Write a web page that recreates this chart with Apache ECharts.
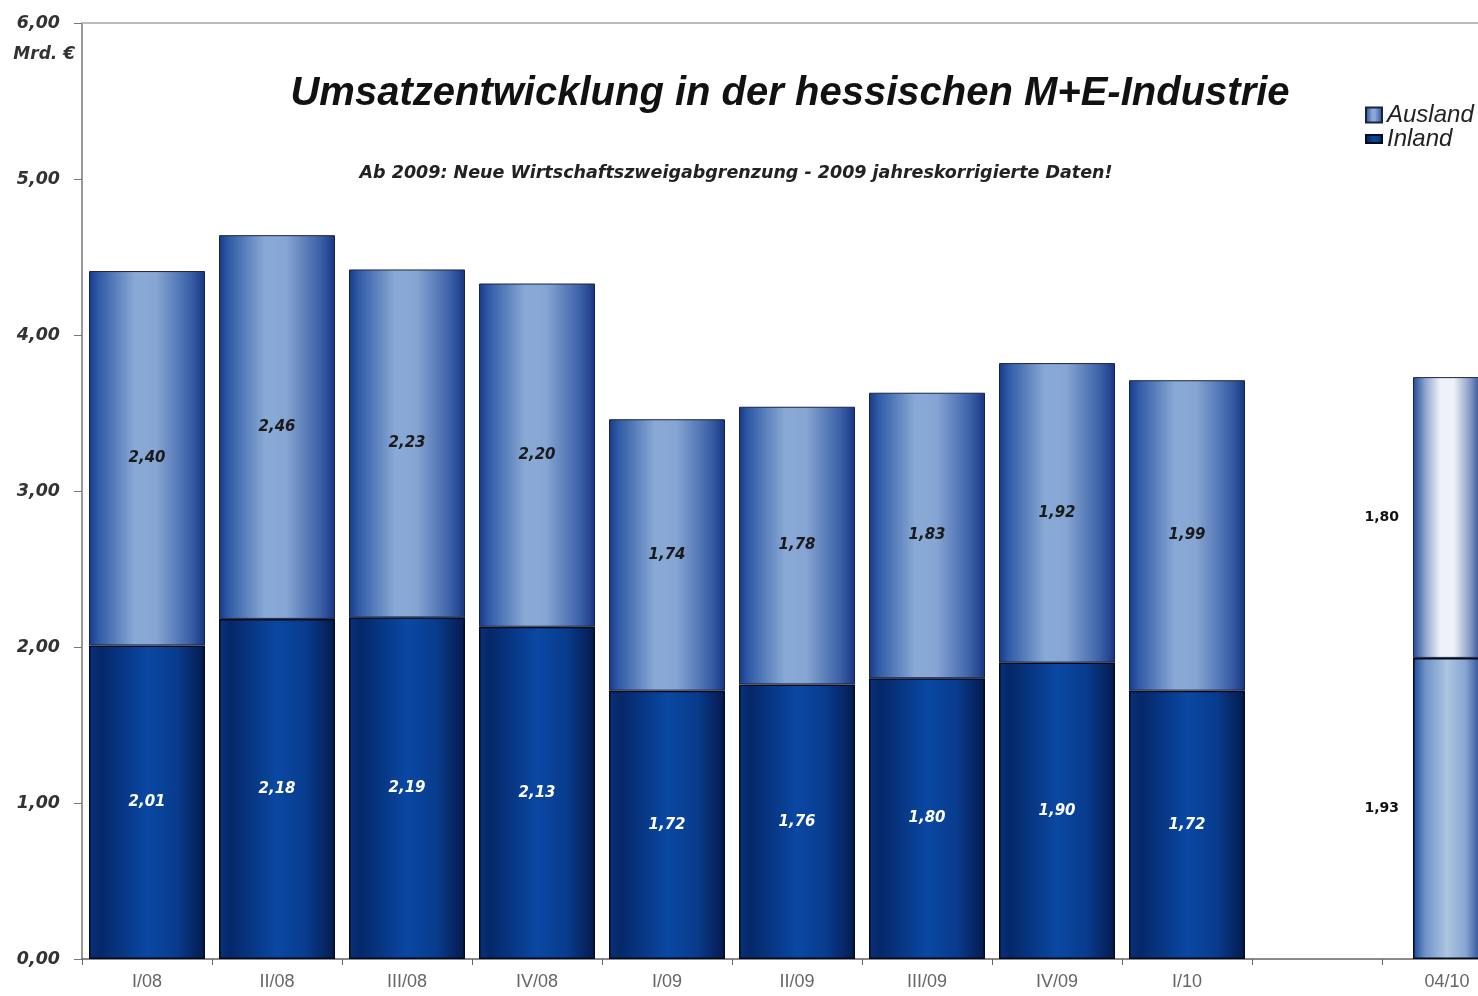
<!DOCTYPE html>
<html>
<head>
<meta charset="utf-8">
<script src="https://cdn.jsdelivr.net/npm/echarts@6/dist/echarts.min.js"></script>
<style>
  html, body { margin: 0; padding: 0; background: #fff; overflow: hidden; }
  /* breiter als das Fenster: die Kategorie 04/10 ragt wie im Original über den Rand */
  #chart { width: 1540px; height: 996px; }
</style>
</head>
<body>
<div id="chart"></div>
<script>
// Quartale, dazwischen eine leere Kategorie vor 04/10
const categories = ['I/08', 'II/08', 'III/08', 'IV/08', 'I/09', 'II/09', 'III/09', 'IV/09', 'I/10', '', '04/10']
const inland = [2.01, 2.18, 2.19, 2.13, 1.72, 1.76, 1.80, 1.90, 1.72, null, 1.93]
const ausland = [2.40, 2.46, 2.23, 2.20, 1.74, 1.78, 1.83, 1.92, 1.99, null, 1.80]
const yTicks = [0, 1, 2, 3, 4, 5, 6]
const monthIndex = 10 // Monatswert 04/10: eigene Farben, schmalere Säule

function grad (stops) {
  return {
    type: 'linear', x: 0, y: 0, x2: 1, y2: 0,
    colorStops: stops.map(s => ({ offset: s[0], color: s[1] }))
  }
}

const ausColor = grad([[0, '#17398a'], [0.08, '#2f5aa6'], [0.4, '#8aaad6'], [0.58, '#86a5d3'], [0.88, '#3a5fa6'], [1, '#173582']])
const inColor = grad([[0, '#08317a'], [0.1, '#06286a'], [0.5, '#0a48a3'], [0.75, '#083c8e'], [1, '#051a4e']])
const monthAusColor = grad([[0, '#1f4a98'], [0.18, '#8ea4cf'], [0.4, '#eef2f8'], [0.6, '#eef2f8'], [0.85, '#8396c2'], [1, '#2b4a92']])
const monthInColor = grad([[0, '#1c4896'], [0.18, '#6e93c8'], [0.5, '#adc5e2'], [0.78, '#86a4d0'], [1, '#284a96']])

const fmt = v => v.toFixed(2).replace('.', ',')
const valFont = 'DejaVu Sans, Verdana, sans-serif'

const quarterPart = values => values.map((v, i) => (v === null || i === monthIndex) ? '-' : v)
const monthPart = values => values.map((v, i) => i === monthIndex ? v : '-')

const quarterLabel = color => ({
  show: true,
  position: 'inside',
  formatter: p => fmt(p.value),
  color: color,
  fontFamily: valFont,
  fontSize: 15,
  fontStyle: 'italic',
  fontWeight: 'bold'
})
const monthLabel = {
  show: true,
  position: 'left',
  distance: 14,
  formatter: p => fmt(p.value),
  color: '#111',
  fontFamily: valFont,
  fontSize: 14,
  fontWeight: 'bold'
}

const chart = echarts.init(document.getElementById('chart'))

const option = {
  backgroundColor: '#fff',
  animation: false,
  title: [{
    text: 'Umsatzentwicklung in der hessischen M+E-Industrie',
    left: 785,
    top: 69,
    textAlign: 'center',
    textStyle: {
      fontFamily: 'Liberation Sans, Arial, sans-serif',
      fontSize: 40,
      fontStyle: 'italic',
      fontWeight: 'bold',
      color: '#111'
    }
  }, {
    text: 'Ab 2009: Neue Wirtschaftszweigabgrenzung - 2009 jahreskorrigierte Daten!',
    left: 731,
    top: 159,
    textAlign: 'center',
    textStyle: {
      fontFamily: valFont,
      fontSize: 17.5,
      fontStyle: 'italic',
      fontWeight: 'bold',
      color: '#222'
    }
  }],
  legend: [{
    data: ['Ausland'],
    left: 1360,
    top: 98,
    icon: 'rect',
    itemWidth: 16,
    itemHeight: 15,
    itemGap: 4,
    textStyle: { fontFamily: 'Liberation Sans, Arial, sans-serif', fontSize: 24, fontStyle: 'italic', color: '#222' }
  }, {
    data: ['Inland'],
    left: 1360,
    top: 122,
    icon: 'rect',
    itemWidth: 16,
    itemHeight: 8,
    itemGap: 4,
    textStyle: { fontFamily: 'Liberation Sans, Arial, sans-serif', fontSize: 24, fontStyle: 'italic', color: '#222' }
  }],
  grid: {
    left: 82,
    right: 28,
    top: 23,
    bottom: 37
  },
  xAxis: [{
    type: 'category',
    data: categories,
    axisLine: { lineStyle: { color: '#666', width: 1.5 } },
    axisTick: { show: true, length: 6, lineStyle: { color: '#666' } },
    axisLabel: {
      margin: 14,
      color: '#666',
      fontFamily: 'Liberation Sans Narrow, Arial Narrow, Liberation Sans, sans-serif',
      fontSize: 18
    }
  }, {
    type: 'category',
    data: categories,
    position: 'top',
    axisLine: { show: true, lineStyle: { color: '#bbb', width: 2 } },
    axisTick: { show: false },
    axisLabel: { show: false }
  }, {
    // unsichtbare Achse, damit die Monatssäule eigene Breite bekommt
    type: 'category',
    data: categories,
    show: false
  }],
  yAxis: {
    type: 'value',
    min: yTicks[0],
    max: yTicks[yTicks.length - 1],
    interval: 1,
    name: 'Mrd. €',
    nameLocation: 'end',
    nameGap: -40,
    nameTextStyle: {
      align: 'right',
      padding: [0, 7, 0, 0],
      fontFamily: valFont,
      fontSize: 17,
      fontStyle: 'italic',
      fontWeight: 'bold',
      color: '#333'
    },
    axisLine: { show: true, lineStyle: { color: '#777', width: 1.5 } },
    axisTick: { show: true, length: 8, lineStyle: { color: '#777' } },
    splitLine: { show: false },
    axisLabel: {
      margin: 22,
      formatter: v => fmt(v),
      fontFamily: valFont,
      fontSize: 17.5,
      fontStyle: 'italic',
      fontWeight: 'bold',
      color: '#333'
    }
  },
  series: [{
    name: 'Inland',
    type: 'bar',
    stack: 'total',
    barWidth: 116,
    data: quarterPart(inland),
    itemStyle: { color: inColor, borderColor: '#050a1c', borderWidth: 1.5 },
    label: quarterLabel('#fff')
  }, {
    name: 'Ausland',
    type: 'bar',
    stack: 'total',
    barWidth: 116,
    data: quarterPart(ausland),
    itemStyle: { color: ausColor, borderColor: '#1a2440', borderWidth: 1 },
    label: quarterLabel('#1a1a1a')
  }, {
    name: 'Inland 04/10',
    type: 'bar',
    stack: 'month',
    xAxisIndex: 2,
    barWidth: 68,
    data: monthPart(inland),
    itemStyle: { color: monthInColor, borderColor: '#050a1c', borderWidth: 1.5 },
    label: monthLabel
  }, {
    name: 'Ausland 04/10',
    type: 'bar',
    stack: 'month',
    xAxisIndex: 2,
    barWidth: 68,
    data: monthPart(ausland),
    itemStyle: { color: monthAusColor, borderColor: '#1a2440', borderWidth: 1 },
    label: monthLabel
  }]
}

chart.setOption(option)
</script>
</body>
</html>
